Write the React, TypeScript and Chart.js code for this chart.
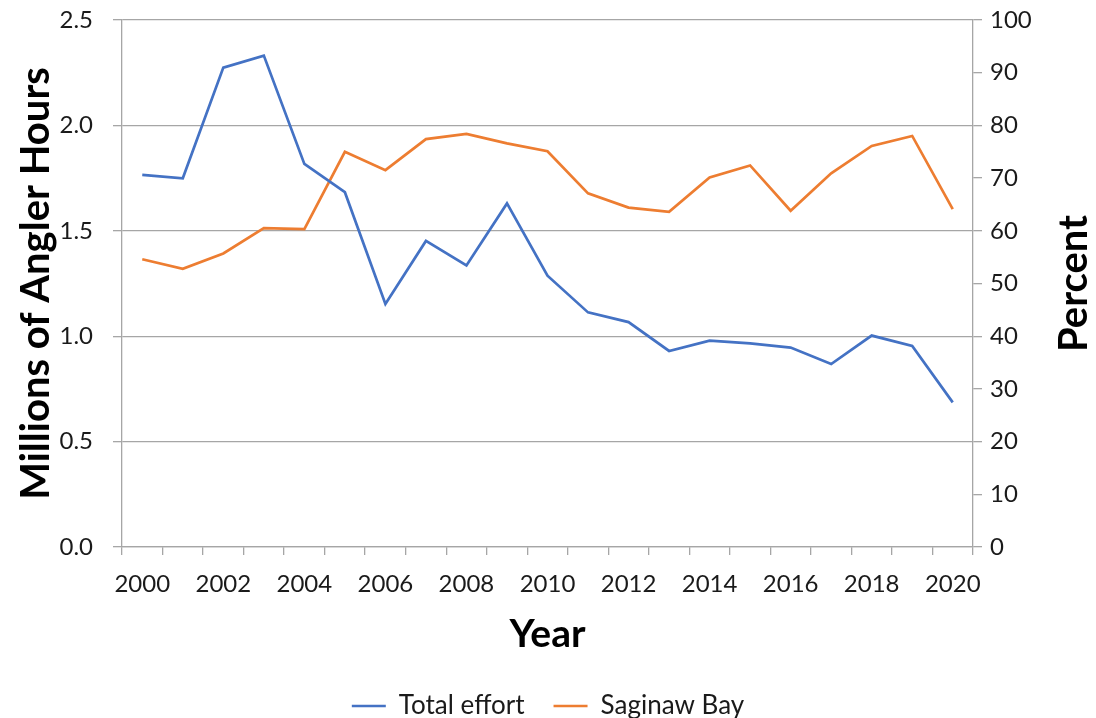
import React, { useEffect, useRef } from "react";
import { Chart, registerables } from "chart.js";

Chart.register(...registerables);

const years: string[] = [
  "2000", "2001", "2002", "2003", "2004", "2005", "2006", "2007", "2008", "2009", "2010",
  "2011", "2012", "2013", "2014", "2015", "2016", "2017", "2018", "2019", "2020",
];

// Millions of angler hours (left axis)
const totalEffort: number[] = [
  1.765, 1.749, 2.274, 2.331, 1.817, 1.683, 1.153, 1.452, 1.336, 1.630, 1.287,
  1.113, 1.067, 0.930, 0.979, 0.966, 0.946, 0.868, 1.003, 0.954, 0.686,
];

// Percent (right axis)
const saginawBay: number[] = [
  54.6, 52.8, 55.7, 60.5, 60.3, 75.0, 71.5, 77.4, 78.4, 76.6, 75.1,
  67.1, 64.4, 63.6, 70.1, 72.4, 63.8, 70.9, 76.1, 78.0, 64.1,
];

const seriesNames: string[] = ["Total effort", "Saginaw Bay"];
const axisTitles = { x: "Year", left: "Millions of Angler Hours", right: "Percent" };

const FONT = "Lato, 'Open Sans', sans-serif";
const W = 1096;
const H = 718;
const AREA_LEFT = 122;
const AREA_RIGHT = 973;
const AREA_TOP = 20;
const AREA_BOTTOM = 547;
const LEGEND_SHIFT = 11;
const GRID = "#a6a6a6";
const TEXT = "#1a1a1a";

const rightTitlePlugin = {
  id: "rightTitle",
  afterDraw(chart: any) {
    const { ctx, chartArea } = chart;
    ctx.save();
    ctx.font = `bold 40px ${FONT}`;
    ctx.fillStyle = "#000";
    ctx.textAlign = "center";
    ctx.textBaseline = "middle";
    ctx.translate(1074, (chartArea.top + chartArea.bottom) / 2);
    ctx.rotate(-Math.PI / 2);
    ctx.fillText(axisTitles.right, 0, 0);
    ctx.restore();
  },
};

export default function App() {
  const ref = useRef<HTMLCanvasElement | null>(null);

  useEffect(() => {
    document.body.style.margin = "0";
    const canvas = ref.current;
    if (!canvas) return;
    const chart = new Chart(canvas, {
      type: "line",
      data: {
        labels: years,
        datasets: [
          {
            label: seriesNames[0],
            data: totalEffort,
            borderColor: "#4472c4",
            backgroundColor: "#4472c4",
            borderWidth: 2.7,
            pointRadius: 0,
            tension: 0,
            yAxisID: "y",
          },
          {
            label: seriesNames[1],
            data: saginawBay,
            borderColor: "#ed7d31",
            backgroundColor: "#ed7d31",
            borderWidth: 2.7,
            pointRadius: 0,
            tension: 0,
            yAxisID: "y1",
          },
        ],
      },
      options: {
        animation: false,
        responsive: false,
        devicePixelRatio: 1,
        layout: { padding: { top: AREA_TOP, left: 0, right: 0, bottom: -LEGEND_SHIFT } },
        plugins: {
          tooltip: { enabled: false },
          legend: {
            position: "bottom",
            labels: {
              font: { family: FONT, size: 26 },
              color: TEXT,
              usePointStyle: true,
              pointStyle: "line",
              pointStyleWidth: 34,
              padding: 29,
            },
          },
        },
        scales: {
          x: {
            type: "category",
            offset: true,
            grid: {
              offset: true,
              drawOnChartArea: false,
              drawTicks: true,
              tickLength: 8,
              color: GRID,
              lineWidth: 1.3,
            },
            border: { display: true, color: GRID, width: 1.3 },
            ticks: {
              autoSkip: false,
              maxRotation: 0,
              padding: 15,
              color: TEXT,
              font: { family: FONT, size: 24 },
              callback: (_v: any, i: number) => (i % 2 === 0 ? years[i] : ""),
            },
            title: {
              display: true,
              text: axisTitles.x,
              color: "#000",
              font: { family: FONT, size: 39, weight: "bold" },
              padding: { top: 0, bottom: 6 },
            },
            afterFit: (s: any) => {
              const lh = s.chart.legend ? s.chart.legend.height : 0;
              s.height = H + LEGEND_SHIFT - AREA_BOTTOM - lh;
            },
          },
          y: {
            type: "linear",
            position: "left",
            min: 0,
            max: 2.5,
            ticks: {
              stepSize: 0.5,
              padding: 20,
              color: TEXT,
              font: { family: FONT, size: 24 },
              callback: (v: any) => Number(v).toFixed(1),
            },
            grid: { color: GRID, lineWidth: 1.3, tickLength: 9, drawTicks: true },
            border: { display: true, color: GRID, width: 1.3 },
            title: {
              display: true,
              text: axisTitles.left,
              color: "#000",
              font: { family: FONT, size: 40, weight: "bold" },
              padding: { top: 12, bottom: 0 },
            },
            afterFit: (s: any) => {
              s.width = AREA_LEFT;
              s.paddingTop = 0;
              s.paddingBottom = 0;
            },
          },
          y1: {
            type: "linear",
            position: "right",
            min: 0,
            max: 100,
            ticks: {
              stepSize: 10,
              padding: 8,
              color: TEXT,
              font: { family: FONT, size: 24 },
            },
            grid: { drawOnChartArea: false, color: GRID, lineWidth: 1.3, tickLength: 9 },
            border: { display: true, color: GRID, width: 1.3 },
            afterFit: (s: any) => {
              s.width = W - AREA_RIGHT;
              s.paddingTop = 0;
              s.paddingBottom = 0;
            },
          },
        },
      },
      plugins: [rightTitlePlugin],
    } as any);
    return () => chart.destroy();
  }, []);

  return (
    <div style={{ width: W, height: H, background: "#fff" }}>
      <canvas ref={ref} width={W} height={H} style={{ display: "block", width: W, height: H }} />
    </div>
  );
}
